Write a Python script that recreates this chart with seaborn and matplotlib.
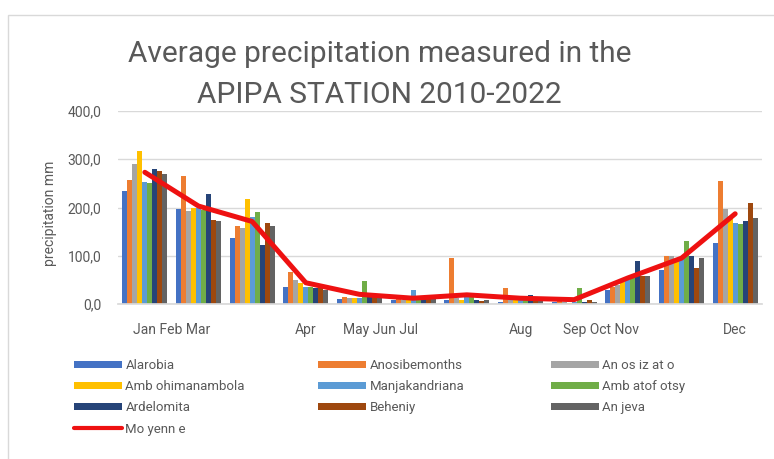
import numpy as np
import pandas as pd
import matplotlib
matplotlib.use("Agg")
import matplotlib.pyplot as plt
import seaborn as sns
from matplotlib.patches import Rectangle
from matplotlib.lines import Line2D

# Monthly mean precipitation (mm) per station, Jan..Dec
months = ["Jan", "Feb", "Mar", "Apr", "May", "Jun",
          "Jul", "Aug", "Sep", "Oct", "Nov", "Dec"]

alarobia         = [234, 197, 137, 35, 10, 8, 8, 5, 5, 30, 70, 126]
anosibemonths    = [256, 265, 161, 67, 15, 10, 95, 33, 8, 35, 100, 255]
anosizato        = [290, 192, 158, 50, 12, 8, 12, 10, 5, 40, 100, 196]
ambohimanambola  = [317, 200, 217, 44, 12, 8, 8, 8, 3, 45, 92, 182]
manjakandriana   = [252, 200, 180, 36, 12, 28, 15, 10, 5, 50, 95, 168]
ambatofotsy      = [250, 195, 190, 36, 48, 12, 20, 15, 33, 55, 130, 165]
ardelomita       = [280, 227, 123, 33, 15, 10, 8, 18, 5, 90, 99, 172]
beheniy          = [276, 175, 168, 33, 15, 10, 6, 10, 8, 58, 74, 210]
anjeva           = [269, 171, 161, 29, 13, 10, 8, 8, 4, 58, 95, 178]

moyenne          = [273, 203, 171, 44, 20, 12, 19, 12, 9, 54, 95, 187]

station_names = ["Alarobia", "Anosibemonths", "An os iz at o",
                 "Amb ohimanambola", "Manjakandriana", "Amb atof otsy",
                 "Ardelomita", "Beheniy", "An jeva"]
mean_name = "Mo yenn e"

station_values = [alarobia, anosibemonths, anosizato, ambohimanambola,
                  manjakandriana, ambatofotsy, ardelomita, beheniy, anjeva]

colors = ["#4472C4", "#ED7D31", "#A5A5A5", "#FFC000", "#5B9BD5",
          "#70AD47", "#264478", "#9E480E", "#636363"]

tick_pos = [0.5, 3.0, 4.4, 7.0, 8.5, 11.0]
tick_text = ["Jan Feb Mar", "Apr", "May Jun Jul", "Aug", "Sep Oct Nov", "Dec"]

rows = []
for name, vals in zip(station_names, station_values):
    for m, v in zip(months, vals):
        rows.append({"month": m, "station": name, "value": v})
df = pd.DataFrame(rows)

sns.set_theme(style="white")
plt.rcParams["font.family"] = ["Roboto", "DejaVu Sans"]

fig = plt.figure(figsize=(7.74, 4.59), dpi=100)
ax = fig.add_axes([118 / 774, 1 - 304 / 459, (762 - 118) / 774, (304 - 111) / 459])

# chart frame
fig.patches.append(Rectangle((8 / 774, -0.01), 1.0, 1 - 15 / 459 + 0.01,
                             transform=fig.transFigure, fill=False,
                             edgecolor="#D9D9D9", linewidth=1.0, zorder=0))

sns.barplot(data=df, x="month", y="value", hue="station",
            hue_order=station_names, order=months,
            palette=colors, width=0.84, gap=0, ax=ax,
            legend=False, saturation=1, linewidth=0)

ax.plot(np.arange(12), moyenne, color="#EE1111", linewidth=3.6,
        solid_capstyle="round", zorder=5)

ax.set_ylim(0, 400)
ax.set_xlim(-0.5, 11.5)
ax.set_yticks([0, 100, 200, 300, 400])
ax.set_yticklabels(["0,0", "100,0", "200,0", "300,0", "400,0"])
ax.yaxis.grid(True, color="#D9D9D9", linewidth=1.0)
ax.set_axisbelow(True)
ax.set_xticks(tick_pos)
ax.set_xticklabels(tick_text)
ax.tick_params(axis="both", length=0, labelsize=10, colors="#595959")
ax.tick_params(axis="x", pad=14)
ax.tick_params(axis="y", pad=12)
ax.set_xlabel("")
ax.set_ylabel("precipitation mm", fontsize=10, color="#595959")
ax.yaxis.set_label_coords(-0.095, 0.47)
for s in ["left", "right", "top"]:
    ax.spines[s].set_visible(False)
ax.spines["bottom"].set_color("#D9D9D9")

fig.text(0.49, 0.882, "Average precipitation measured in the",
         ha="center", va="center", fontsize=21.5, color="#595959")
fig.text(0.49, 0.792, "APIPA STATION 2010-2022",
         ha="center", va="center", fontsize=21.5, color="#595959")

# legend: three columns placed side by side, mean line last in the first one
handles = {name: Rectangle((0, 0), 1, 1, facecolor=c, edgecolor="none")
           for name, c in zip(station_names, colors)}
handles[mean_name] = Line2D([0], [0], color="#EE1111", linewidth=3)
columns = [
    (["Alarobia", "Amb ohimanambola", "Ardelomita", mean_name], 74),
    (["Anosibemonths", "Manjakandriana", "Beheniy"], 318),
    (["An os iz at o", "Amb atof otsy", "An jeva"], 551),
]
for names, x0 in columns:
    leg = fig.legend([handles[n] for n in names], names,
                     loc="upper left", bbox_to_anchor=(x0 / 774, 1 - 359 / 459),
                     frameon=False, fontsize=9.5, handlelength=3.6,
                     handleheight=0.5, labelspacing=0.62, handletextpad=0.3,
                     borderaxespad=0, borderpad=0)
    for t in leg.get_texts():
        t.set_color("#595959")

fig.savefig("out.png", dpi=100)
